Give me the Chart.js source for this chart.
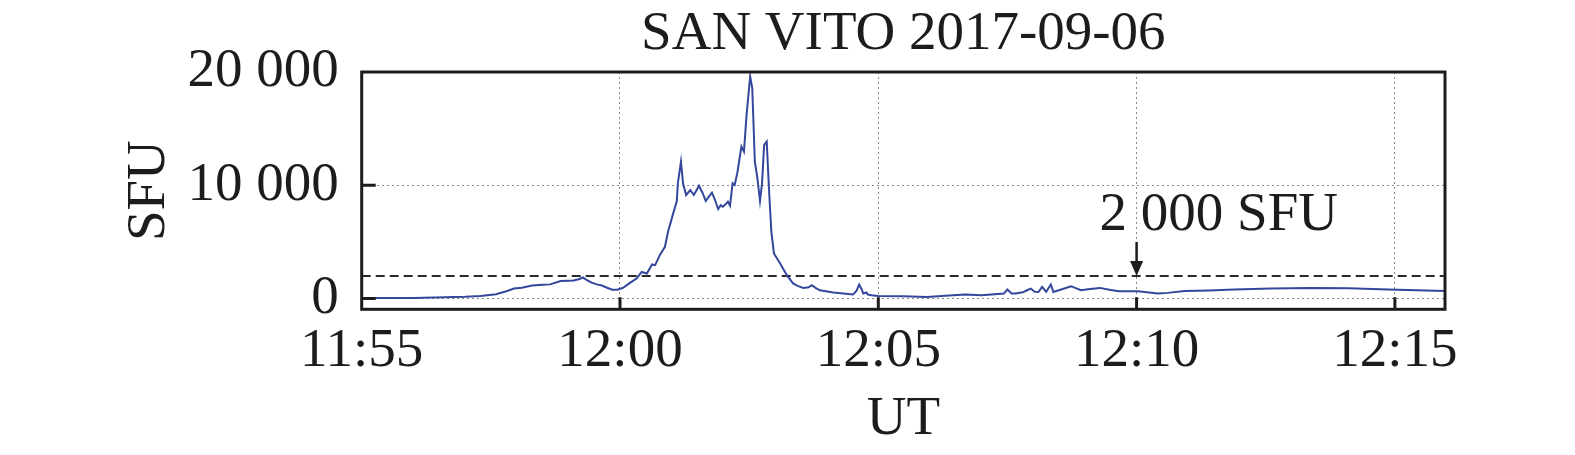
<!DOCTYPE html>
<html>
<head>
<meta charset="utf-8">
<script src="https://cdn.jsdelivr.net/npm/chart.js@4/dist/chart.umd.min.js"></script>
<style>
  html, body { margin: 0; padding: 0; background: #ffffff; }
  #wrap { width: 1575px; height: 455px; position: relative; }
</style>
</head>
<body>
<div id="wrap"><canvas id="c"></canvas></div>
<script>
// ---- data (minutes after 11:55 UT, solar flux units) ----
const chartTitle = 'SAN VITO 2017-09-06';
const minutes = [0, 1.0, 2.0, 2.3, 2.6, 2.8, 2.95, 3.1, 3.3, 3.5, 3.65, 3.85, 4.0, 4.1, 4.2, 4.28, 4.35, 4.45, 4.55, 4.65, 4.75, 4.85, 4.95, 5.06, 5.2, 5.32, 5.42, 5.52, 5.62, 5.68, 5.77, 5.87, 5.93, 6.03, 6.10, 6.12, 6.18, 6.22, 6.28, 6.36, 6.43, 6.53, 6.60, 6.66, 6.72, 6.78, 6.84, 6.90, 6.95, 6.99, 7.05, 7.09, 7.13, 7.18, 7.22, 7.27, 7.35, 7.40, 7.45, 7.52, 7.56, 7.61, 7.66, 7.71, 7.75, 7.79, 7.84, 7.89, 7.93, 7.98, 8.10, 8.23, 8.35, 8.45, 8.55, 8.65, 8.71, 8.80, 8.87, 9.13, 9.51, 9.58, 9.63, 9.68, 9.71, 9.77, 9.80, 9.87, 10.0, 10.5, 10.94, 11.3, 11.68, 12.0, 12.43, 12.50, 12.58, 12.65, 12.80, 12.88, 12.95, 13.03, 13.10, 13.17, 13.25, 13.34, 13.39, 13.54, 13.73, 13.92, 14.1, 14.29, 14.5, 14.66, 15.03, 15.41, 15.6, 15.93, 16.4, 16.89, 17.6, 18.38, 19.1, 19.87, 20.97];
const sfu = [40, 40, 150, 220, 380, 650, 880, 950, 1150, 1220, 1250, 1550, 1580, 1600, 1700, 1860, 1650, 1400, 1250, 1150, 950, 780, 780, 950, 1400, 1770, 2350, 2210, 3010, 2950, 3830, 4570, 5890, 7520, 8610, 10180, 12090, 10180, 9140, 9580, 9140, 9960, 9300, 8610, 9000, 9350, 8700, 7900, 8250, 8110, 8350, 8550, 8200, 10180, 10030, 11060, 13420, 12970, 16220, 19610, 18580, 12090, 10620, 8610, 10180, 13570, 13860, 9140, 5890, 3980, 3100, 2060, 1330, 1100, 940, 1000, 1180, 900, 730, 530, 350, 700, 1240, 800, 440, 530, 350, 290, 230, 200, 140, 250, 350, 300, 440, 800, 450, 440, 550, 730, 880, 600, 580, 1030, 600, 1240, 580, 800, 1090, 730, 850, 940, 750, 650, 650, 440, 500, 670, 720, 800, 880, 940, 900, 800, 670];
const xTickValues = [0, 5, 10, 15, 20];
const xTickLabels = ['11:55', '12:00', '12:05', '12:10', '12:15'];
const yTickValues = [0, 10000, 20000];
const yTickLabels = ['0', '10 000', '20 000'];
const thresholdValue = 2000;
const thresholdLabel = '2 000 SFU';
const arrowTimeValue = 15;      // 12:10
const arrowTopValue = 5000;
const xAxisTitle = 'UT';
const yAxisTitle = 'SFU';
const xMin = 0, xMax = 20.97, yMin = -950, yMax = 20000;

// ---- build ----
const FONT = 'Liberation Serif';
const INK = '#1e1b1c';
const seriesPoints = minutes.map((m, i) => ({ x: m, y: sfu[i] }));
const thresholdPoints = [{ x: xMin, y: thresholdValue }, { x: xMax, y: thresholdValue }];

const framePlugin = {
  id: 'frame',
  afterDatasetsDraw(chart) {
    const { ctx, chartArea: a, scales: { x, y } } = chart;
    ctx.save();
    ctx.strokeStyle = INK;
    ctx.lineWidth = 3;
    // inner tick marks
    ctx.beginPath();
    xTickValues.forEach(v => {
      const px = x.getPixelForValue(v);
      if (px > a.left + 2) { ctx.moveTo(px, a.bottom); ctx.lineTo(px, a.bottom - 12); }
    });
    yTickValues.forEach(v => {
      const py = y.getPixelForValue(v);
      if (py > a.top + 2) { ctx.moveTo(a.left, py); ctx.lineTo(a.left + 14, py); }
    });
    ctx.stroke();
    // frame
    ctx.strokeRect(a.left, a.top, a.right - a.left, a.bottom - a.top);
    // arrow to the threshold line
    const ax = x.getPixelForValue(arrowTimeValue);
    const tip = y.getPixelForValue(thresholdValue);
    const top = y.getPixelForValue(arrowTopValue);
    ctx.fillStyle = INK;
    ctx.lineWidth = 2.5;
    ctx.beginPath(); ctx.moveTo(ax, top); ctx.lineTo(ax, tip - 12); ctx.stroke();
    ctx.beginPath(); ctx.moveTo(ax - 6.5, tip - 15); ctx.lineTo(ax + 6.5, tip - 15); ctx.lineTo(ax, tip); ctx.closePath(); ctx.fill();
    // label
    ctx.font = '55px "' + FONT + '"';
    ctx.textAlign = 'left';
    ctx.textBaseline = 'alphabetic';
    ctx.fillText(thresholdLabel, ax - 37, top - 12);
    ctx.restore();
  }
};

new Chart(document.getElementById('c'), {
  type: 'line',
  data: {
    datasets: [
      {
        label: 'San Vito',
        data: seriesPoints,
        borderColor: '#34479b',
        borderWidth: 2,
        pointRadius: 0,
        tension: 0,
        fill: false
      },
      {
        label: 'threshold',
        data: thresholdPoints,
        borderColor: '#2a2a2a',
        borderWidth: 2,
        borderDash: [9, 5],
        pointRadius: 0,
        fill: false
      }
    ]
  },
  plugins: [framePlugin],
  options: {
    responsive: true,
    maintainAspectRatio: false,
    animation: false,
    events: [],
    layout: { padding: { left: 0, right: 130, top: 0, bottom: 0 } },
    plugins: {
      legend: { display: false },
      tooltip: { enabled: false },
      title: {
        display: true,
        fullSize: false,
        text: chartTitle,
        color: INK,
        font: { family: FONT, size: 55, weight: 'normal', lineHeight: 1.2 },
        padding: { top: 2, bottom: 4 }
      }
    },
    scales: {
      x: {
        type: 'linear',
        min: xMin,
        max: xMax,
        afterBuildTicks: (s) => { s.ticks = xTickValues.map(v => ({ value: v })); },
        afterFit: (s) => { s.height = 145.7; },
        ticks: {
          color: INK,
          font: { family: FONT, size: 55, lineHeight: 1.2 },
          padding: 9,
          maxRotation: 0,
          autoSkip: false,
          callback: (v) => xTickLabels[xTickValues.indexOf(v)]
        },
        grid: { color: '#8a8a8a', lineWidth: 1, drawTicks: false },
        border: { display: false, dash: [2, 3] },
        title: {
          display: true,
          text: xAxisTitle,
          color: INK,
          font: { family: FONT, size: 55, lineHeight: 1.2 },
          padding: { top: 0, bottom: 2 }
        }
      },
      y: {
        type: 'linear',
        min: yMin,
        max: yMax,
        afterBuildTicks: (s) => { s.ticks = yTickValues.map(v => ({ value: v })); },
        afterFit: (s) => { s.width = 361.7; },
        ticks: {
          color: INK,
          font: { family: FONT, size: 55, lineHeight: 1.2 },
          padding: 23,
          callback: (v) => yTickLabels[yTickValues.indexOf(v)]
        },
        grid: { color: '#8a8a8a', lineWidth: 1, drawTicks: false },
        border: { display: false, dash: [2, 3] },
        title: {
          display: true,
          text: yAxisTitle,
          color: INK,
          font: { family: FONT, size: 55, lineHeight: 1.2 },
          padding: { top: 117, bottom: 0 }
        }
      }
    }
  }
});
</script>
</body>
</html>
